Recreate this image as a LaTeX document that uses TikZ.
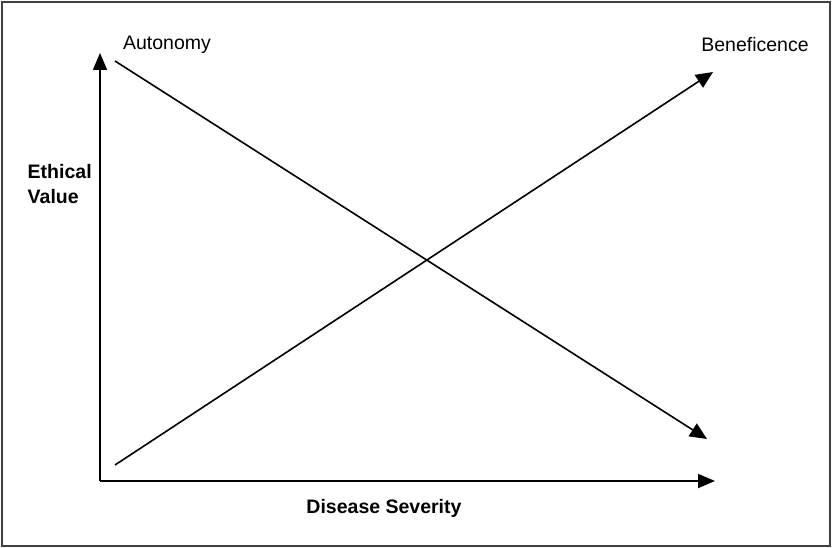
\documentclass[tikz,border=0pt]{standalone}
\usepackage{fontspec}
\setmainfont{Liberation Sans}
\usetikzlibrary{positioning, arrows.meta}

\begin{document}
\begin{tikzpicture}[x=1pt,y=-1pt,thick,
       axis/.style={line width=1.8pt,-{Triangle[length=17pt,width=14pt]}},
       trend/.style={line width=1.6pt,-{Triangle[length=17pt,width=15pt]}},
       lab/.style={font=\fontsize{19.5}{25}\selectfont}]
       \useasboundingbox (0,0) rectangle (832,548);
       \draw[black!75,line width=2pt] (2,2) rectangle (830,546);

       \coordinate (O) at (100,481);
       \coordinate (Y) at (100,53);
       \coordinate (X) at (715,481);
       \coordinate (A1) at (115,61);
       \coordinate (A2) at (707,439);
       \coordinate (B1) at (115,465);
       \coordinate (B2) at (713,72);

       \node[lab] (aut) at (167,45) {Autonomy};
       \node[lab] (ben) at (755,45) {Beneficence};
       \node[lab,font=\fontsize{19.5}{25}\selectfont\bfseries,align=left,anchor=west] (ev) at (24,184) {Ethical\\Value};
       \node[lab,font=\fontsize{19.5}{25}\selectfont\bfseries] (ds) at (384,508) {Disease Severity};

       \draw[axis] (O) -- (Y);
       \draw[axis] (O) -- (X);
       \draw[trend] (A1) -- (A2);
       \draw[trend] (B1) -- (B2);
    \end{tikzpicture}
\end{document}
